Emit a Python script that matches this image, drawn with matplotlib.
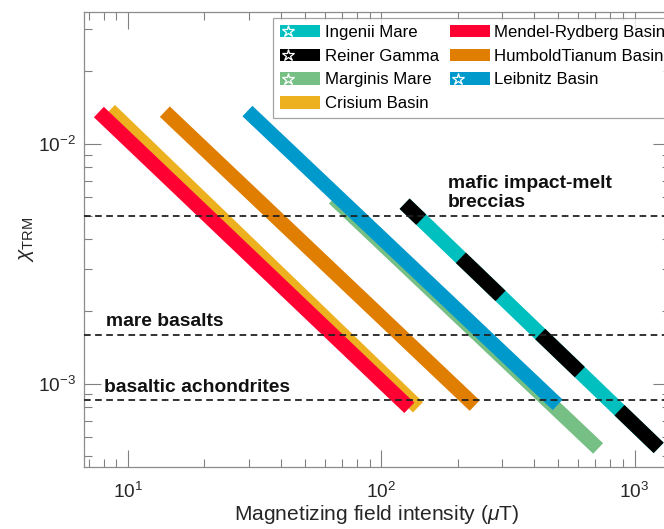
import matplotlib
matplotlib.use('Agg')
import matplotlib.pyplot as plt
from matplotlib.patches import Rectangle, Patch
from matplotlib.lines import Line2D
from matplotlib.legend_handler import HandlerBase
from matplotlib.ticker import LogLocator, NullFormatter

plt.rcParams['font.family'] = ['Liberation Sans', 'DejaVu Sans']
plt.rcParams['mathtext.fontset'] = 'custom'
plt.rcParams['mathtext.rm'] = 'Liberation Sans'
plt.rcParams['mathtext.it'] = 'Liberation Sans:italic'
plt.rcParams['mathtext.bf'] = 'Liberation Sans:bold'
plt.rcParams['lines.scale_dashes'] = False

# chi_TRM range implied for each region over its field-intensity range
basins = ['Ingenii Mare', 'Reiner Gamma', 'Marginis Mare', 'Crisium Basin',
          'Mendel-Rydberg Basin', 'HumboldTianum Basin', 'Leibnitz Basin']
colors = ['#00BFBF', '#000000', '#76BF85', '#EDB120',
          '#FF0033', '#DF7E00', '#0099CC']
has_star = [True, True, True, False, False, False, True]
field_start = [123.6, 123.6, 65.0, 8.48, 7.67, 13.97, 29.6]
field_end = [1245.0, 1245.0, 718.0, 139.6, 129.0, 233.8, 497.0]
chi_start = [5.62e-3, 5.62e-3, 5.92e-3, 1.38e-2, 1.355e-2, 1.36e-2, 1.368e-2]
chi_end = [5.39e-4, 5.39e-4, 5.36e-4, 7.96e-4, 7.92e-4, 8.09e-4, 8.15e-4]

# typical chi_TRM of lunar rock types
rock_chi = [5e-3, 1.6e-3, 8.5e-4]
rock_names = ['mafic impact-melt\nbreccias', 'mare basalts', 'basaltic achondrites']
rock_name_x = [183.0, 8.2, 8.0]

# back-to-front drawing order
draw_order = [3, 4, 5, 2, 6, 0, 1]


class BandHandler(HandlerBase):
    def create_artists(self, legend, orig_handle, xdescent, ydescent,
                       width, height, fontsize, trans):
        rect = Rectangle((-xdescent, -ydescent), width, height,
                         facecolor=orig_handle.get_facecolor(),
                         edgecolor='none', transform=trans)
        arts = [rect]
        if orig_handle.get_gid() == 'star':
            star = Line2D([-xdescent + 0.2 * width], [-ydescent + height / 2],
                          marker='*', markersize=9, markerfacecolor='none',
                          markeredgecolor='white', markeredgewidth=0.9,
                          transform=trans)
            arts.append(star)
        return arts


fig = plt.figure(figsize=(6.64, 5.29), dpi=100)
ax = fig.add_axes([0.1265, 0.1178, 0.8825, 0.8595])
ax.set_xscale('log')
ax.set_yscale('log')
ax.set_xlim(6.7, 1380)
ax.set_ylim(4.5e-4, 3.54e-2)

lw = 10.4
for i in draw_order:
    if basins[i] == 'Reiner Gamma':
        ls = (23, (39.6, 39.6))
    else:
        ls = '-'
    ax.plot([field_start[i], field_end[i]], [chi_start[i], chi_end[i]],
            color=colors[i], lw=lw, linestyle=ls,
            solid_capstyle='butt', dash_capstyle='butt')

for level, name, x in zip(rock_chi, rock_names, rock_name_x):
    ax.axhline(level, color='#222222', lw=1.3, linestyle=(0, (4.8, 3.2)), zorder=5)
    ax.annotate(name, xy=(x, level), xytext=(0, 3.5), textcoords='offset points',
                ha='left', va='bottom', fontsize=13.9, fontweight='bold',
                color='#111111', linespacing=1.15, zorder=6)

ax.set_xlabel(r'Magnetizing field intensity ($\mu$T)', fontsize=15.1,
              color='#262626', labelpad=1)
ax.set_ylabel(r'$\chi_{\mathrm{TRM}}$', fontsize=15.1, color='#262626', labelpad=1)

ax.xaxis.set_major_locator(LogLocator(base=10, numticks=10))
ax.xaxis.set_minor_locator(LogLocator(base=10, subs=range(2, 10), numticks=20))
ax.yaxis.set_major_locator(LogLocator(base=10, numticks=10))
ax.yaxis.set_minor_locator(LogLocator(base=10, subs=range(2, 10), numticks=20))
ax.xaxis.set_minor_formatter(NullFormatter())
ax.yaxis.set_minor_formatter(NullFormatter())

ax.tick_params(which='both', direction='in', top=True, right=True,
               color='#808080', labelcolor='#262626', labelsize=13.7)
ax.tick_params(which='major', length=12, width=0.8)
ax.tick_params(which='minor', length=6, width=0.8)
ax.tick_params(axis='x', which='major', pad=11)
ax.tick_params(axis='y', which='major', pad=6)
for sp in ax.spines.values():
    sp.set_color('#8C8C8C')
    sp.set_linewidth(0.9)

handles = []
for i in range(len(basins)):
    p = Patch(facecolor=colors[i], label=basins[i])
    if has_star[i]:
        p.set_gid('star')
    handles.append(p)

leg = ax.legend(handles=handles, ncol=2, loc='upper right',
                bbox_to_anchor=(1.014, 1), borderaxespad=0.35,
                fontsize=12.1, frameon=True, fancybox=False,
                edgecolor='#8C8C8C', handlelength=2.4, handleheight=0.75,
                handletextpad=0.25, columnspacing=0.65, labelspacing=0.52,
                borderpad=0.42, handler_map={Patch: BandHandler()})
leg.get_frame().set_linewidth(0.9)

fig.savefig('out.png', dpi=100)
